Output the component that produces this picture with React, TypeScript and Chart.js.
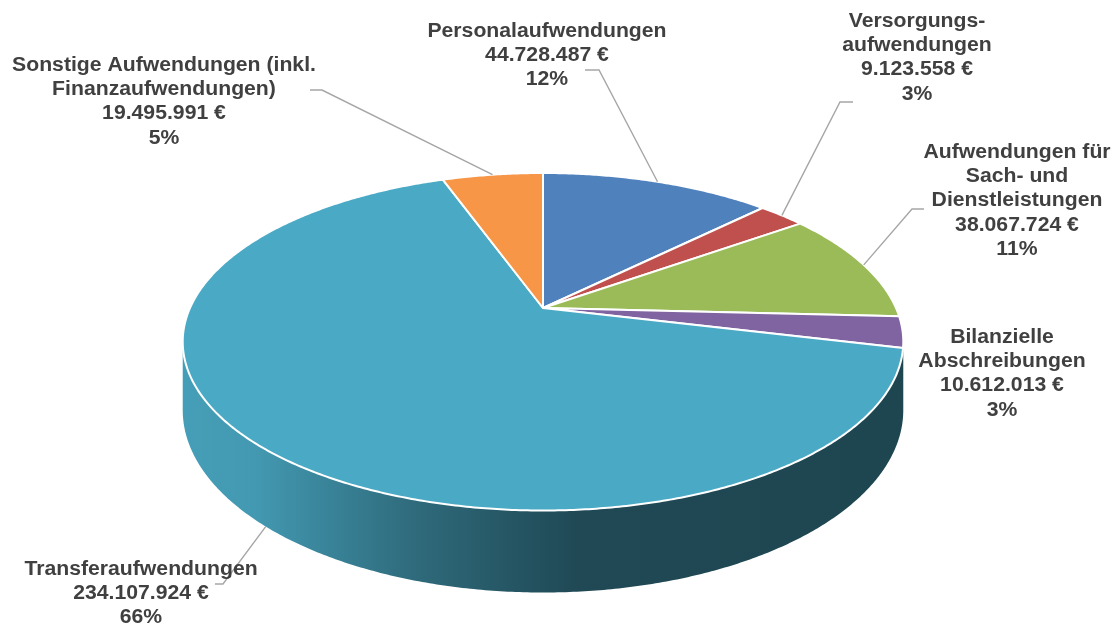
import React, { useEffect, useRef } from 'react';
import { Chart, PieController, ArcElement } from 'chart.js';

// ---------------- data ----------------
const CATEGORIES = [
  'Personalaufwendungen',
  'Versorgungs-\naufwendungen',
  'Aufwendungen für\nSach- und\nDienstleistungen',
  'Bilanzielle\nAbschreibungen',
  'Transferaufwendungen',
  'Sonstige Aufwendungen (inkl.\nFinanzaufwendungen)',
];
const VALUES = [44728487, 9123558, 38067724, 10612013, 234107924, 19495991];
const PERCENT_LABELS = ['12%', '3%', '11%', '3%', '66%', '5%'];
const COLORS = ['#4f81bd', '#c0504d', '#9bbb59', '#8064a2', '#4aaac5', '#f79646'];

// ---------------- layout / style ----------------
const LABEL_POS: [number, number][] = [
  [547, 37], [917, 27], [1017, 158], [1002, 343], [141, 575], [164, 71],
];
const LEADERS: ([number, number][] | null)[] = [
  [[585, 70], [599, 70]],
  [[853, 102], [840, 102]],
  [[924, 209], [912, 209]],
  null,
  [[215, 584], [223, 584]],
  [[310, 90], [322, 90]],
];
const LEADER_ATTACH = [0, 0, 0, 0, 1, 0];
const LINE_HEIGHT = 24.2;
// perspective shape relative to outer radius
const SHAPE = { rx: 353 / 158, ry: 162 / 158, k: 0.2, depth: 65.6 / 158 };
const WALL_STOPS: [number, number][] = [
  [0, 0.93], [0.1, 0.9], [0.18, 0.8], [0.32, 0.63], [0.46, 0.5], [0.55, 0.43], [1, 0.41],
];

function project(cx: number, cy: number, R: number, ang: number, r = 1, down = 0): [number, number] {
  const X = Math.cos(ang) * r;
  const Y = Math.sin(ang) * r;
  const w = 1 - SHAPE.k * Y;
  return [cx + (R * SHAPE.rx * X) / w, cy + (R * SHAPE.ry * Y + down * R * SHAPE.depth) / w];
}

function hexToRgb(h: string): [number, number, number] {
  const v = parseInt(h.slice(1), 16);
  return [(v >> 16) & 255, (v >> 8) & 255, v & 255];
}

function formatEuro(v: number) {
  return String(v).replace(/\B(?=(\d{3})+(?!\d))/g, '.') + ' €';
}

class Arc3D extends ArcElement {
  static id = 'arc3d';
  draw(ctx: CanvasRenderingContext2D) {
    const el: any = this;
    const { x, y, startAngle, endAngle, outerRadius } = el;
    const opts = el.options;
    const n = Math.max(2, Math.ceil((endAngle - startAngle) / (Math.PI / 360)));
    ctx.save();
    ctx.beginPath();
    ctx.moveTo(x, y);
    for (let i = 0; i <= n; i++) {
      const a = startAngle + ((endAngle - startAngle) * i) / n;
      const [px, py] = project(x, y, outerRadius, a);
      ctx.lineTo(px, py);
    }
    ctx.closePath();
    ctx.fillStyle = opts.backgroundColor;
    ctx.fill();
    ctx.lineWidth = opts.borderWidth;
    ctx.strokeStyle = opts.borderColor;
    ctx.lineJoin = 'round';
    ctx.stroke();
    ctx.restore();
  }
}

class Pie3DController extends PieController {
  static id = 'pie3d';
  static defaults = { dataElementType: 'arc3d' };
}

Chart.register(ArcElement, PieController, Arc3D as any, Pie3DController as any);

const wallPlugin = {
  id: 'walls3d',
  beforeDatasetsDraw(chart: any) {
    const ctx: CanvasRenderingContext2D = chart.ctx;
    const meta = chart.getDatasetMeta(0);
    const vis0 = Math.asin(SHAPE.k);
    const vis1 = Math.PI - vis0;
    meta.data.forEach((el: any, i: number) => {
      const { x, y, outerRadius } = el;
      const base = hexToRgb(COLORS[i]);
      for (const off of [0, 2 * Math.PI, -2 * Math.PI]) {
        const s = el.startAngle + off;
        const e = el.endAngle + off;
        const a = Math.max(s, vis0);
        const b = Math.min(e, vis1);
        if (b <= a) continue;
        const n = Math.max(2, Math.ceil((b - a) / (Math.PI / 360)));
        ctx.save();
        ctx.beginPath();
        for (let k = 0; k <= n; k++) {
          const ang = a + ((b - a) * k) / n;
          const [px, py] = project(x, y, outerRadius, ang, 1, 0);
          if (k === 0) ctx.moveTo(px, py);
          else ctx.lineTo(px, py);
        }
        for (let k = n; k >= 0; k--) {
          const ang = a + ((b - a) * k) / n;
          const [px, py] = project(x, y, outerRadius, ang, 1, 1);
          ctx.lineTo(px, py);
        }
        ctx.closePath();
        const half = outerRadius * SHAPE.rx * 1.02;
        const g = ctx.createLinearGradient(x - half, 0, x + half, 0);
        WALL_STOPS.forEach(([t, f]) => {
          g.addColorStop(t, `rgb(${Math.round(base[0] * f)},${Math.round(base[1] * f)},${Math.round(base[2] * f)})`);
        });
        ctx.fillStyle = g;
        ctx.fill();
        ctx.restore();
      }
    });
  },
};

const labelPlugin = {
  id: 'labels3d',
  afterDatasetsDraw(chart: any) {
    const ctx: CanvasRenderingContext2D = chart.ctx;
    const meta = chart.getDatasetMeta(0);
    meta.data.forEach((el: any, i: number) => {
      const mid = (el.startAngle + el.endAngle) / 2;
      const lead = LEADERS[i];
      if (lead) {
        const anchor = project(el.x, el.y, el.outerRadius, mid, 1, LEADER_ATTACH[i]);
        ctx.save();
        ctx.beginPath();
        ctx.moveTo(lead[0][0], lead[0][1]);
        ctx.lineTo(lead[1][0], lead[1][1]);
        ctx.lineTo(anchor[0], anchor[1]);
        ctx.strokeStyle = '#a6a6a6';
        ctx.lineWidth = 1.4;
        ctx.stroke();
        ctx.restore();
      }
      const lines = [...CATEGORIES[i].split('\n'), formatEuro(VALUES[i]), PERCENT_LABELS[i]];
      const [lx, ly] = LABEL_POS[i];
      ctx.save();
      ctx.font = 'bold 20px "Liberation Sans", Arial, sans-serif';
      ctx.fillStyle = '#404040';
      ctx.textAlign = 'center';
      ctx.textBaseline = 'alphabetic';
      lines.forEach((t, j) => {
        ctx.save();
        ctx.translate(lx, ly + j * LINE_HEIGHT);
        ctx.scale(1.06, 1);
        ctx.fillText(t, 0, 0);
        ctx.restore();
      });
      ctx.restore();
    });
  },
};

export default function App() {
  const ref = useRef<HTMLCanvasElement>(null);
  useEffect(() => {
    document.body.style.margin = '0';
    const chart = new Chart(ref.current as HTMLCanvasElement, {
      type: 'pie3d' as any,
      data: {
        labels: CATEGORIES.map((c) => c.replace(/\n/g, ' ')),
        datasets: [
          {
            data: VALUES,
            backgroundColor: COLORS,
            borderColor: '#ffffff',
            borderWidth: 2,
            borderAlign: 'inner',
          } as any,
        ],
      },
      options: {
        responsive: false,
        animation: false,
        events: [],
        layout: { padding: { top: 150, bottom: 162, left: 0, right: 32 } },
        plugins: { legend: { display: false }, tooltip: { enabled: false } },
      } as any,
      plugins: [wallPlugin, labelPlugin],
    });
    return () => chart.destroy();
  }, []);
  return (
    <div style={{ position: 'absolute', left: 0, top: 0, width: 1118, height: 628, background: '#fff' }}>
      <canvas ref={ref} width={1118} height={628} style={{ display: 'block' }} />
    </div>
  );
}
